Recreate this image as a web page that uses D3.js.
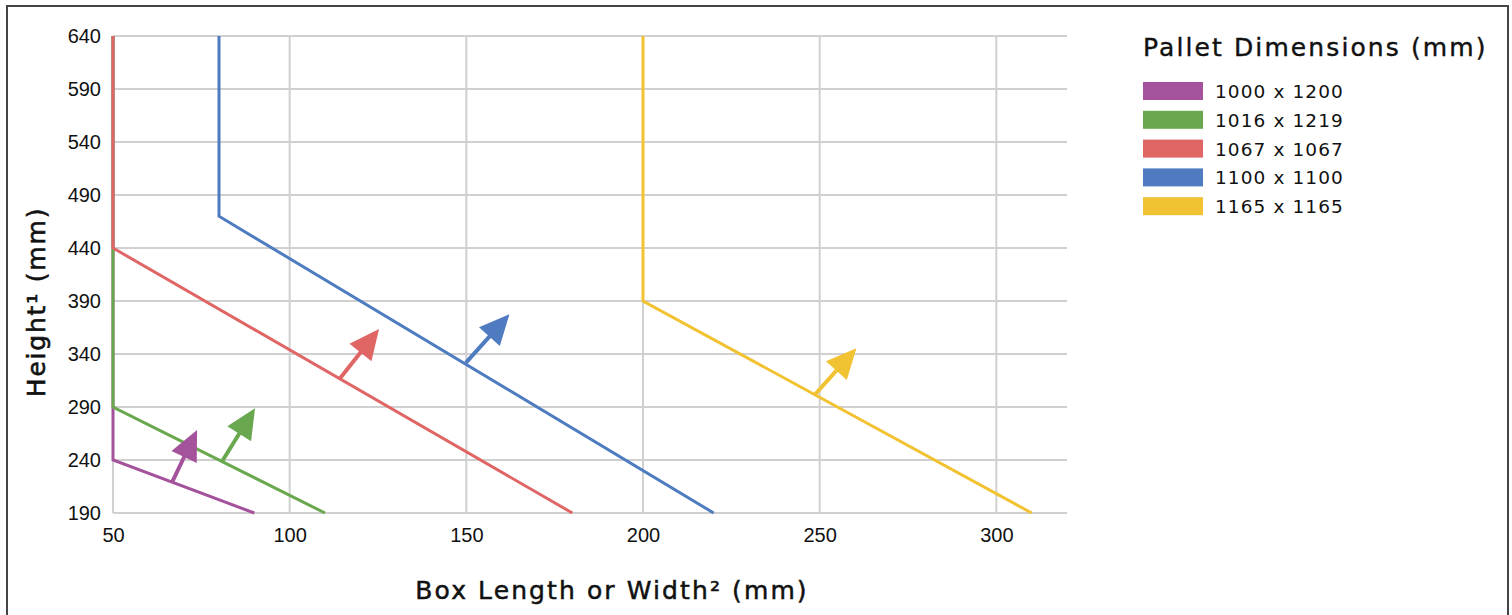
<!DOCTYPE html>
<html>
<head>
<meta charset="utf-8">
<script src="https://cdn.jsdelivr.net/npm/d3@7"></script>
<style>
  body { margin: 0; background: #fff; }
  text { font-family: "Liberation Sans", Arial, sans-serif; }
  .title { font-family: "DejaVu Sans", "Noto Sans", sans-serif; }
</style>
</head>
<body>
<svg class="chart"></svg>
<script>
// pallet series, drawn in this order
var pallets = ["1000 x 1200", "1016 x 1219", "1067 x 1067", "1100 x 1100", "1165 x 1165"];
var colors = ["#a4529c", "#6aa84f", "#e06666", "#4f7bc0", "#f1c232"];

// each series: [x, height] breakpoints
var lines = [
    [[50, 640], [50, 240], [90, 190]],
    [[50, 640], [50, 290], [110, 190]],
    [[50, 640], [50, 440], [180, 190]],
    [[80, 640], [80, 470], [220, 190]],
    [[200, 640], [200, 390], [310, 190]]
];

// direction arrows: from point on the line to arrow tip
var arrowFrom = [[66.7, 219], [80.8, 238.4], [114.1, 316.4], [149.9, 331.8], [248.8, 302.3]];
var arrowTo = [[73.8, 268.3], [90.2, 288.8], [125.3, 363.6], [162.2, 377.5], [260.4, 345.4]];

var xTicks = [50, 100, 150, 200, 250, 300];
var yTicks = [190, 240, 290, 340, 390, 440, 490, 540, 590, 640];

function show() {
    'use strict';
    var W = 1512, H = 615;
    var margin = {top: 36, left: 113};
    var width = 1067 - margin.left,
        height = 513 - margin.top;

    var root = d3.select(".chart").attr("width", W).attr("height", H);

    // outer frame
    root.append("rect")
        .attr("x", 7).attr("y", 6)
        .attr("width", 1501).attr("height", 640)
        .attr("fill", "none").attr("stroke", "#444").attr("stroke-width", 2);

    var svg = root.append("g")
        .attr("transform", "translate(" + margin.left + "," + margin.top + ")");

    var x = d3.scaleLinear().domain([50, 320]).range([0, width]);
    var y = d3.scaleLinear().domain([190, 640]).range([height, 0]);

    // grid
    svg.append("g").selectAll("line").data(yTicks).enter().append("line")
        .attr("x1", 0).attr("x2", width)
        .attr("y1", function(d) { return y(d); }).attr("y2", function(d) { return y(d); })
        .attr("stroke", "#d0d0d0").attr("stroke-width", 2);
    svg.append("g").selectAll("line").data(xTicks).enter().append("line")
        .attr("y1", 0).attr("y2", height)
        .attr("x1", function(d) { return x(d); }).attr("x2", function(d) { return x(d); })
        .attr("stroke", "#d0d0d0").attr("stroke-width", 2);

    // axes (labels only)
    var xAxis = svg.append("g")
        .attr("transform", "translate(0," + height + ")")
        .call(d3.axisBottom(x).tickValues(xTicks).tickSize(0).tickPadding(15));
    var yAxis = svg.append("g")
        .call(d3.axisLeft(y).tickValues(yTicks).tickSize(0).tickPadding(12));
    [xAxis, yAxis].forEach(function(a) {
        a.select(".domain").remove();
        a.selectAll("text").attr("font-size", 20).attr("fill", "#111")
            .style("font-family", "'Liberation Sans', Arial, sans-serif");
    });

    var line = d3.line()
        .x(function(d) { return x(d[0]); })
        .y(function(d) { return y(d[1]); });

    svg.append("g").selectAll("path").data(lines).enter().append("path")
        .attr("d", line)
        .attr("fill", "none")
        .attr("stroke", function(d, i) { return colors[i]; })
        .attr("stroke-width", 3)
        .attr("stroke-linejoin", "miter");

    // arrows
    var headLen = 30, headHalf = 14;
    var arrows = svg.append("g");
    arrowFrom.forEach(function(p, i) {
        var x0 = x(p[0]), y0 = y(p[1]),
            x1 = x(arrowTo[i][0]), y1 = y(arrowTo[i][1]);
        var dx = x1 - x0, dy = y1 - y0, len = Math.sqrt(dx * dx + dy * dy);
        var ux = dx / len, uy = dy / len;
        var bx = x1 - ux * headLen, by = y1 - uy * headLen;
        arrows.append("line")
            .attr("x1", x0).attr("y1", y0)
            .attr("x2", bx + ux * 2).attr("y2", by + uy * 2)
            .attr("stroke", colors[i]).attr("stroke-width", 4);
        arrows.append("path")
            .attr("d", "M" + x1 + "," + y1 +
                "L" + (bx - uy * headHalf) + "," + (by + ux * headHalf) +
                "L" + (bx + uy * headHalf) + "," + (by - ux * headHalf) + "Z")
            .attr("fill", colors[i]);
    });

    // axis titles (thin stroke gives a medium weight)
    root.append("text").attr("class", "title")
        .attr("x", 612).attr("y", 599)
        .attr("text-anchor", "middle").attr("font-size", 25)
        .attr("letter-spacing", 2.1).attr("fill", "#111")
        .attr("stroke", "#111").attr("stroke-width", 0.5)
        .text("Box Length or Width\u00b2 (mm)");

    root.append("text").attr("class", "title")
        .attr("transform", "translate(45,302) rotate(-90)")
        .attr("text-anchor", "middle").attr("font-size", 25)
        .attr("letter-spacing", 1.8).attr("fill", "#111")
        .attr("stroke", "#111").attr("stroke-width", 0.6)
        .text("Height\u00b9 (mm)");

    // legend
    var lg = root.append("g").attr("transform", "translate(1143,0)");
    lg.append("text").attr("class", "title")
        .attr("x", 0).attr("y", 56)
        .attr("font-size", 25).attr("letter-spacing", 2.1).attr("fill", "#111")
        .attr("stroke", "#111").attr("stroke-width", 0.4)
        .text("Pallet Dimensions (mm)");
    var items = lg.selectAll(".item").data(pallets).enter().append("g")
        .attr("class", "item")
        .attr("transform", function(d, i) { return "translate(0," + (91 + i * 28.8) + ")"; });
    items.append("rect")
        .attr("x", 0).attr("y", -9).attr("width", 60).attr("height", 18)
        .attr("fill", function(d, i) { return colors[i]; });
    items.append("text").attr("class", "title")
        .attr("x", 72).attr("y", 7)
        .attr("font-size", 18.5).attr("letter-spacing", 1.1).attr("fill", "#111")
        .text(function(d) { return d; });
}
show();
</script>
</body>
</html>
